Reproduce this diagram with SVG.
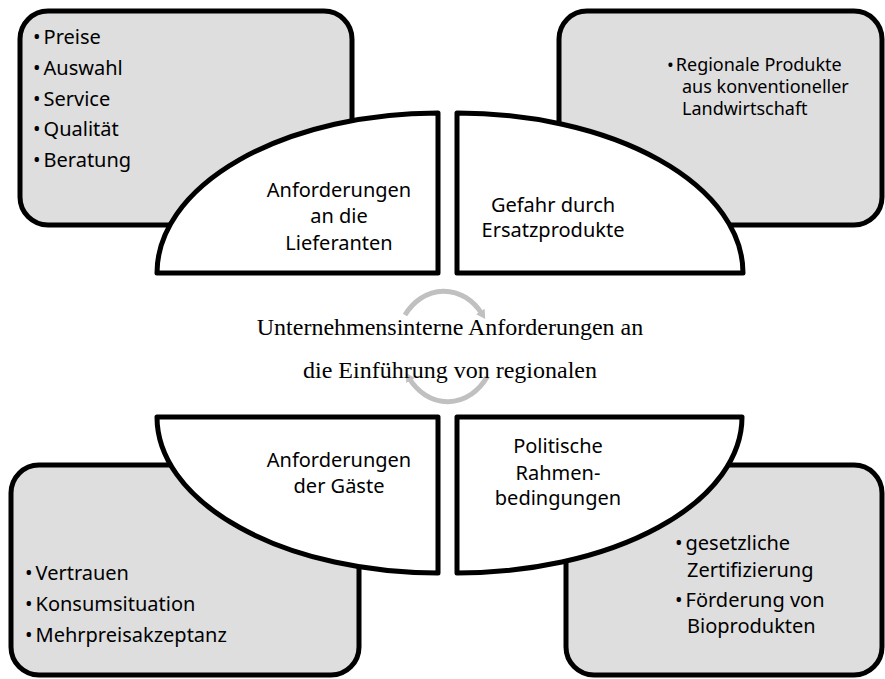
<svg xmlns="http://www.w3.org/2000/svg" width="885" height="679" viewBox="0 0 885 679">
<defs>
<style>
.box{fill:#dedede;stroke:#000;stroke-width:5;}
.seg{fill:#fff;stroke:#000;stroke-width:5;stroke-linejoin:round;}
.t{font-family:"Noto Sans","Open Sans","Liberation Sans",sans-serif;font-size:20px;fill:#000;}
.ts{font-family:"Noto Sans","Open Sans","Liberation Sans",sans-serif;font-size:18px;fill:#000;}
.c{text-anchor:middle;}
.center{font-family:"Liberation Serif","Times New Roman",serif;font-size:24px;fill:#000;text-anchor:middle;}
.arc{fill:none;stroke:#c0c0c0;stroke-width:5;}
</style>
<marker id="ah" markerUnits="userSpaceOnUse" markerWidth="12" markerHeight="12" refX="3" refY="5" orient="auto">
<path d="M0,0 L9,5 L0,10 Z" fill="#c0c0c0"/>
</marker>
</defs>
<rect width="885" height="679" fill="#fff"/>

<g id="box-lieferanten-details">
<rect class="box" x="20" y="11" width="332" height="214" rx="28"/>
<text class="t" x="33" y="44">•<tspan dx="3">Preise</tspan></text>
<text class="t" x="33" y="75">•<tspan dx="3">Auswahl</tspan></text>
<text class="t" x="33" y="106">•<tspan dx="3">Service</tspan></text>
<text class="t" x="33" y="136">•<tspan dx="3">Qualität</tspan></text>
<text class="t" x="33" y="167">•<tspan dx="3">Beratung</tspan></text>
</g>

<g id="box-ersatz-details">
<rect class="box" x="559" y="11" width="323" height="214" rx="28"/>
<text class="ts" x="667" y="71">•<tspan dx="2">Regionale Produkte</tspan></text>
<text class="ts" x="682" y="93">aus konventioneller</text>
<text class="ts" x="682" y="115">Landwirtschaft</text>
</g>

<g id="box-gaeste-details">
<rect class="box" x="11" y="465" width="348" height="210" rx="28"/>
<text class="t" x="25" y="580">•<tspan dx="3">Vertrauen</tspan></text>
<text class="t" x="25" y="611">•<tspan dx="3">Konsumsituation</tspan></text>
<text class="t" x="25" y="642">•<tspan dx="3">Mehrpreisakzeptanz</tspan></text>
</g>

<g id="box-politik-details">
<rect class="box" x="566" y="465" width="316" height="210" rx="28"/>
<text class="t" x="675" y="550">•<tspan dx="3">gesetzliche</tspan></text>
<text class="t" x="687" y="577">Zertifizierung</text>
<text class="t" x="675" y="607">•<tspan dx="3">Förderung von</tspan></text>
<text class="t" x="687" y="633">Bioprodukten</text>
</g>

<g id="seg-lieferanten">
<path class="seg" d="M157,273 A281,160 0 0 1 438,113 L438,273 Z"/>
<text class="t c" x="339" y="197">Anforderungen</text>
<text class="t c" x="339" y="223">an die</text>
<text class="t c" x="339" y="250">Lieferanten</text>
</g>

<g id="seg-ersatz">
<path class="seg" d="M457,113 A286,160 0 0 1 743,273 L457,273 Z"/>
<text class="t c" x="553" y="212">Gefahr durch</text>
<text class="t c" x="553" y="237">Ersatzprodukte</text>
</g>

<g id="seg-gaeste">
<path class="seg" d="M157,417 L438,417 L438,573 A281,156 0 0 1 157,417 Z"/>
<text class="t c" x="339" y="467">Anforderungen</text>
<text class="t c" x="339" y="493">der Gäste</text>
</g>

<g id="seg-politik">
<path class="seg" d="M457,417 L742,417 A285,156 0 0 1 457,573 Z"/>
<text class="t c" x="558" y="453">Politische</text>
<text class="t c" x="558" y="480">Rahmen-</text>
<text class="t c" x="558" y="505">bedingungen</text>
</g>

<g id="connectors">
<path class="arc" d="M405,315 A48,58 0 0 1 482,314" marker-end="url(#ah)"/>
<path class="arc" d="M487,377 A48,58 0 0 1 409,378" marker-end="url(#ah)"/>
</g>

<g id="center">
<text class="center" x="450" y="335">Unternehmensinterne Anforderungen an</text>
<text class="center" x="450" y="378">die Einführung von regionalen</text>
</g>
</svg>
